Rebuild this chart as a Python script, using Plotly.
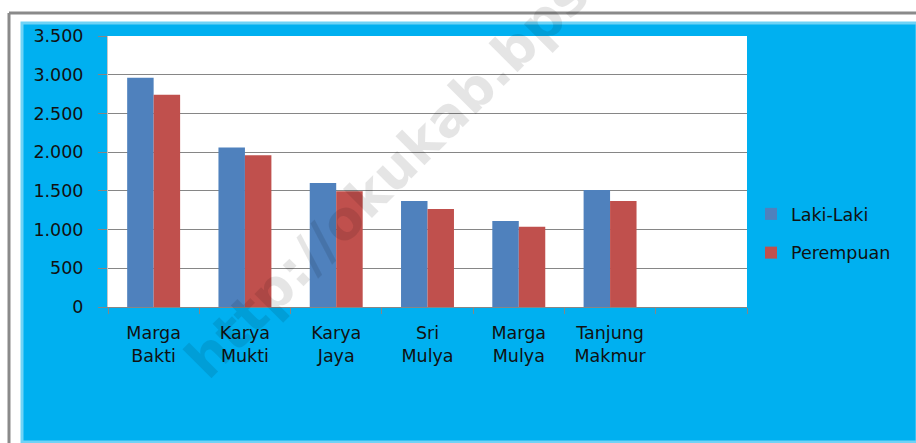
import plotly.graph_objects as go

categories = ["Marga<br>Bakti", "Karya<br>Mukti", "Karya<br>Jaya", "Sri<br>Mulya",
              "Marga<br>Mulya", "Tanjung<br>Makmur", " "]
laki = [2960, 2060, 1600, 1370, 1110, 1510, None]
perempuan = [2740, 1960, 1495, 1265, 1035, 1370, None]
series_names = ["Laki-Laki", "Perempuan"]
y_ticks = [0, 500, 1000, 1500, 2000, 2500, 3000, 3500]

W, H = 916, 443
L, R, T, B = 108, 747, 36, 307

def px(x):
    return (x - L) / (R - L)

def py(y):
    return (B - y) / (B - T)

FONT = "DejaVu Sans"
FS = 17.5

fig = go.Figure()
fig.add_trace(go.Bar(x=categories, y=laki, name=series_names[0], marker_color="#4F81BD",
                     marker_line_width=0, legendgroup="a"))
fig.add_trace(go.Bar(x=categories, y=perempuan, name=series_names[1], marker_color="#C0504D",
                     marker_line_width=0, legendgroup="b"))

shapes = [
    # cyan chart background
    dict(type="rect", xref="paper", yref="paper", x0=px(22), x1=px(917), y0=py(23), y1=py(442),
         fillcolor="#00B0F0", line=dict(color="#6fd3f6", width=3), layer="below"),
    # white plot area
    dict(type="rect", xref="paper", yref="paper", x0=0, x1=1, y0=0, y1=1,
         fillcolor="white", line=dict(width=0), layer="below"),
    # grey frame lines
    dict(type="line", xref="paper", yref="paper", x0=px(9), x1=px(917), y0=py(13), y1=py(13),
         line=dict(color="#8a8a8a", width=3), layer="below"),
    dict(type="line", xref="paper", yref="paper", x0=px(9), x1=px(9), y0=py(13), y1=py(444),
         line=dict(color="#8a8a8a", width=3), layer="below"),
]

fig.update_layout(
    width=W, height=H,
    margin=dict(l=L, r=W - R, t=T, b=H - B, pad=0),
    paper_bgcolor="white",
    plot_bgcolor="white",
    barmode="group",
    bargap=0.42,
    bargroupgap=0,
    separators=",.",
    font=dict(family=FONT, size=FS, color="#111111"),
    shapes=shapes,
    showlegend=True,
    legend=dict(x=px(751), xanchor="left", y=py(196), yanchor="top",
                bgcolor="rgba(0,0,0,0)", font=dict(family=FONT, size=FS, color="#111111"),
                tracegroupgap=13, traceorder="grouped"),
    xaxis=dict(
        type="category",
        categoryorder="array", categoryarray=categories,
        showgrid=False,
        showline=True, linecolor="#868686", linewidth=1,
        ticks="outside", tickson="boundaries", ticklen=6, tickcolor="#868686",
        ticklabelstandoff=10,
        tickfont=dict(family=FONT, size=FS, color="#111111"),
        range=[-0.5, 6.5],
        fixedrange=True,
    ),
    yaxis=dict(
        range=[0, 3500],
        tickvals=y_ticks,
        tickformat=",d",
        showgrid=True, gridcolor="#868686", gridwidth=1,
        showline=True, linecolor="#c8c8c8", linewidth=1,
        ticks="outside", ticklen=9, tickcolor="#868686",
        ticklabelstandoff=11,
        tickfont=dict(family=FONT, size=FS, color="#111111"),
        zeroline=False,
        fixedrange=True,
    ),
    annotations=[
        dict(text="http://okukab.bps.go.id", xref="paper", yref="paper",
             x=px(448), y=py(115), xanchor="center", yanchor="middle",
             textangle=-45, showarrow=False,
             font=dict(family=FONT, size=54, color="rgba(0,0,0,0.1)", weight="bold")),
    ],
)

fig.write_html("out.html", config={"displayModeBar": False},
               post_script="document.body.style.margin='0';")
